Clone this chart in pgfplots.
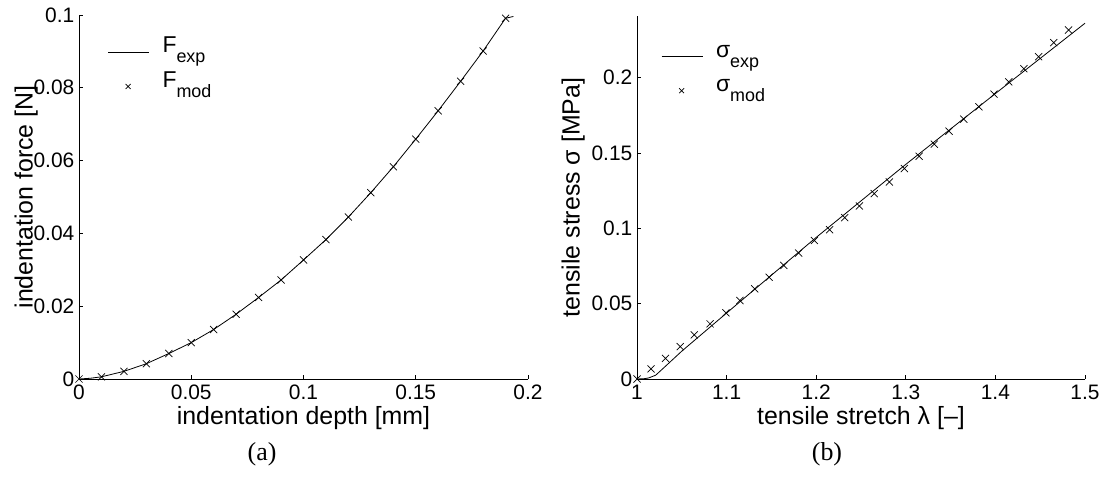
\documentclass[border=0pt]{standalone}
\usepackage{fontspec}
\setmainfont{Liberation Sans}
\newfontfamily\seriffont{Liberation Serif}
\usepackage{pgfplots}
\pgfplotsset{compat=1.18}

\pgfplotstableread{
x y
0    0
0.01 0.0006
0.02 0.0021
0.03 0.0042
0.04 0.0070
0.05 0.0100
0.06 0.0136
0.07 0.0178
0.08 0.0224
0.09 0.0272
0.10 0.0327
0.11 0.0383
0.12 0.0445
0.13 0.0512
0.14 0.0583
0.15 0.0659
0.16 0.0737
0.17 0.0818
0.18 0.0901
0.19 0.0991
}\Fmod

\pgfplotstableread{
x y
0    0
0.005 0.0002
0.01 0.0006
0.02 0.0021
0.03 0.0042
0.04 0.0070
0.05 0.0100
0.06 0.0136
0.07 0.0178
0.08 0.0224
0.09 0.0272
0.10 0.0327
0.11 0.0383
0.12 0.0445
0.13 0.0512
0.14 0.0583
0.15 0.0659
0.16 0.0737
0.17 0.0818
0.18 0.0901
0.19 0.0991
0.1935 0.0996
}\Fexp

\pgfplotstableread{
x y
1.0    0
1.0157 0.0067
1.0318 0.0137
1.0482 0.0215
1.0639 0.0293
1.0816 0.0366
1.0992 0.0439
1.1149 0.0521
1.1314 0.0599
1.1475 0.0676
1.1639 0.0754
1.1804 0.0836
1.1980 0.0920
1.2149 0.0991
1.2318 0.1071
1.2482 0.1149
1.2647 0.1231
1.2816 0.1308
1.2984 0.1397
1.3149 0.1479
1.3318 0.1559
1.3482 0.1645
1.3647 0.1725
1.3816 0.1807
1.3984 0.1891
1.4149 0.1973
1.4318 0.2060
1.4482 0.2140
1.4651 0.2233
1.4816 0.2317
}\Smod

\pgfplotstableread{
x y
1.0    0
1.008  0.0002
1.013  0.0007
1.0208 0.0025
1.03   0.0075
1.05   0.0185
1.10   0.0438
1.20   0.0940
1.30   0.1425
1.40   0.1895
1.50   0.2362
}\Sexp

\pgfplotsset{
  mystyle/.style={
    scale only axis,
    anchor=south west,
    axis x line=bottom, axis y line=left,
    axis line style={-, line width=0.8bp, black},
    tick align=inside,
    major tick length=4bp,
    tick style={line width=0.8bp, black},
    scaled ticks=false,
    /pgf/number format/fixed,
    /pgf/number format/assume math mode=true,
    tick label style={font=\fontsize{21}{21}\selectfont, inner sep=0pt},
    xticklabel style={anchor=north, yshift=-6bp},
    yticklabel style={anchor=east, xshift=-4.5bp},
    label style={font=\fontsize{25}{25}\selectfont, inner sep=0pt},
    xlabel style={at={(axis description cs:0.5,0)}, anchor=north, yshift=-27bp},
    legend cell align=left,
    legend style={draw=none, fill=none, anchor=north west, inner sep=0pt,
      font=\fontsize{23}{23}\selectfont, column sep=13bp, row sep=2.5bp,
      nodes={inner sep=0pt, text height=17bp, text depth=15bp}},
    clip=false,
  },
  linestyle/.style={black, line width=0.8bp, no marks,
    legend image code/.code={\draw[##1] (0bp,0bp) -- (41bp,0bp);}},
  markstyle/.style={black, only marks, mark=x, mark size=5bp,
    mark options={line width=0.7bp},
    legend image code/.code={\draw[##1, mark size=3.5bp] plot coordinates {(20bp,0bp)};}},
}

\newcommand{\sub}[1]{\raisebox{-10bp}{\fontsize{18}{18}\selectfont #1}}

\begin{document}
\begin{tikzpicture}
\useasboundingbox (0,0) rectangle (1102bp,482bp);

\begin{axis}[mystyle,
  at={(79bp,103bp)}, width=449bp, height=364bp,
  xmin=0, xmax=0.2, ymin=0, ymax=0.1,
  xtick={0,0.05,0.1,0.15,0.2},
  ytick={0,0.02,0.04,0.06,0.08,0.1},
  xlabel={indentation depth [mm]},
  ylabel={indentation force [N]},
  ylabel style={at={(axis description cs:-0.0913,0.5)}, anchor=south},
  legend style={at={(axis description cs:0.0635,0.943)}},
]
\addplot[linestyle] table {\Fexp};
\addlegendentry{F\sub{exp}}
\addplot[markstyle] table {\Fmod};
\addlegendentry{F\sub{mod}}
\end{axis}

\begin{axis}[mystyle,
  at={(637bp,103bp)}, width=448bp, height=363bp,
  xmin=1, xmax=1.5, ymin=0, ymax=0.241,
  xtick={1,1.1,1.2,1.3,1.4,1.5},
  ytick={0,0.05,0.1,0.15,0.2},
  xlabel={tensile stretch λ [–]},
  ylabel={tensile stress σ [MPa]},
  ylabel style={at={(axis description cs:-0.116,0.5)}, anchor=south},
  legend style={at={(axis description cs:0.0536,0.934)}},
]
\addplot[linestyle] table {\Sexp};
\addlegendentry{σ\sub{exp}}
\addplot[markstyle] table {\Smod};
\addlegendentry{σ\sub{mod}}
\end{axis}

\node[font=\seriffont\fontsize{26}{26}\selectfont] at (262bp,28bp) {(a)};
\node[font=\seriffont\fontsize{26}{26}\selectfont] at (827bp,28bp) {(b)};
\end{tikzpicture}
\end{document}
